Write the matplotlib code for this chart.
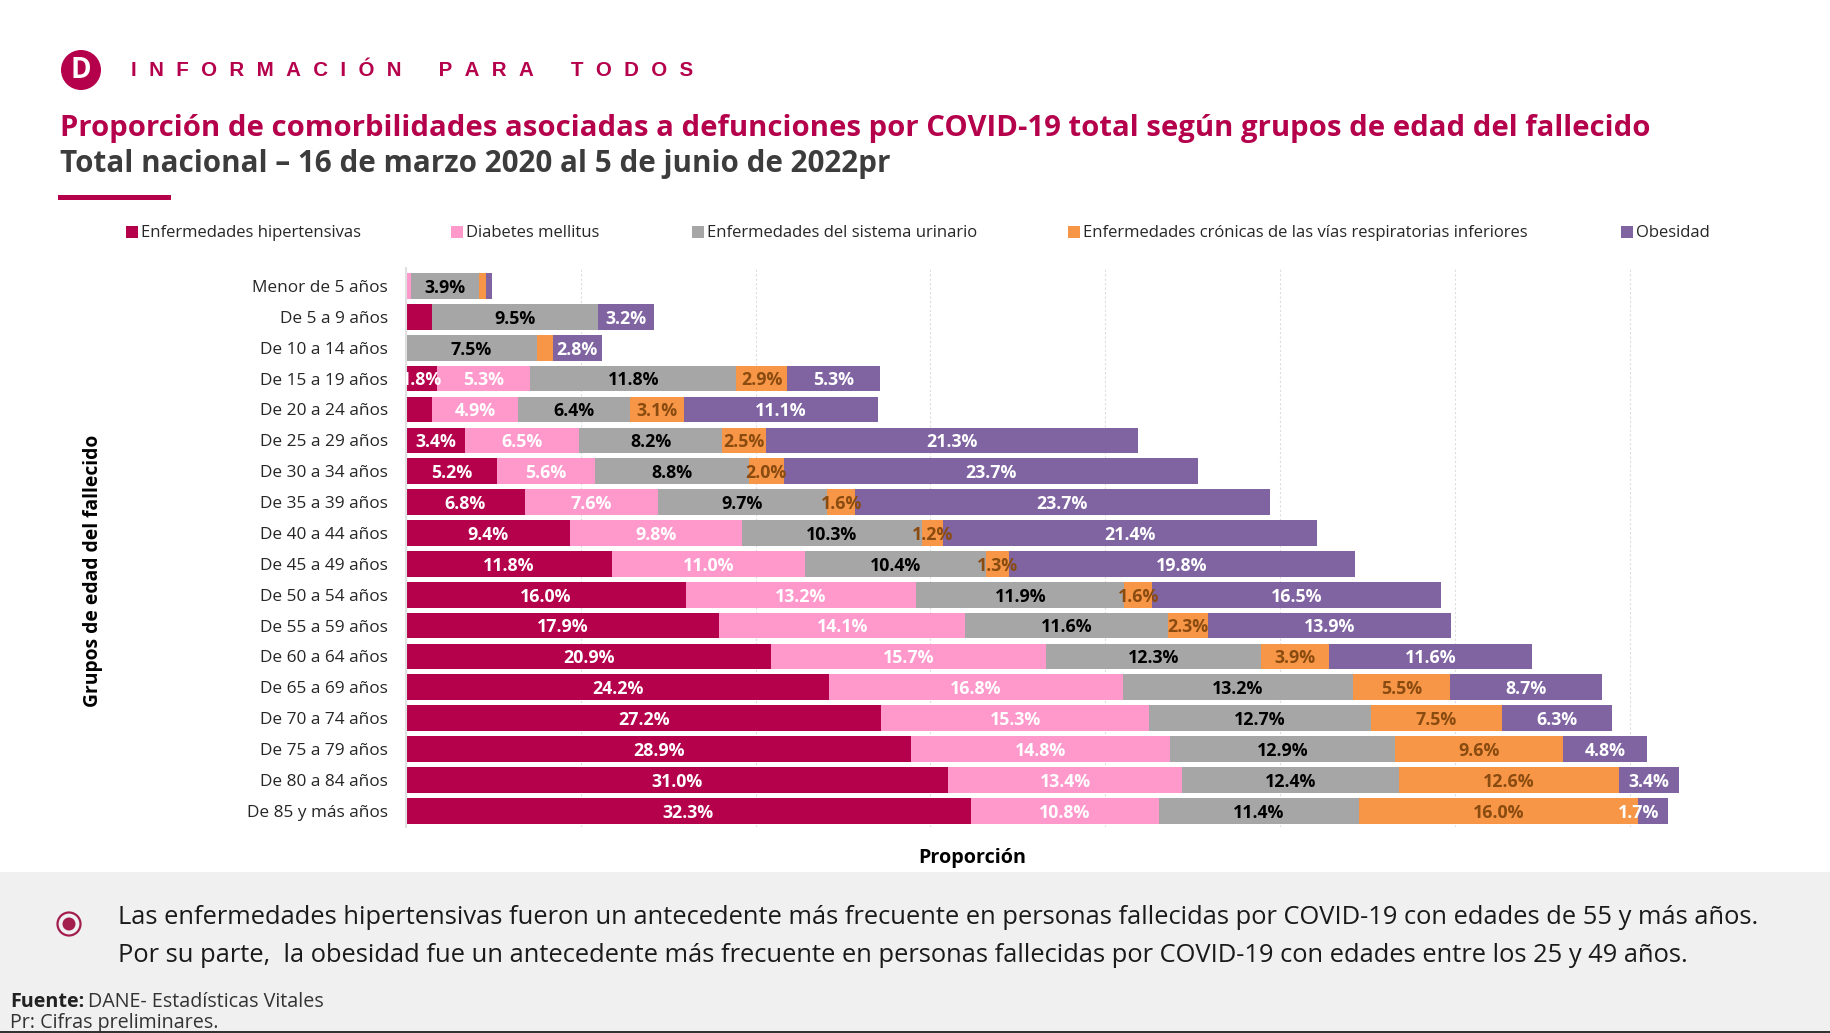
import matplotlib
matplotlib.use("Agg")
import matplotlib.pyplot as plt
from matplotlib.patches import Rectangle, Circle

W, H = 1831, 1033
plt.rcParams['font.family'] = ['Open Sans', 'DejaVu Sans']

grupos = ["Menor de 5 años", "De 5 a 9 años", "De 10 a 14 años", "De 15 a 19 años", "De 20 a 24 años",
          "De 25 a 29 años", "De 30 a 34 años", "De 35 a 39 años", "De 40 a 44 años", "De 45 a 49 años",
          "De 50 a 54 años", "De 55 a 59 años", "De 60 a 64 años", "De 65 a 69 años", "De 70 a 74 años",
          "De 75 a 79 años", "De 80 a 84 años", "De 85 y más años"]
hipertensivas = [0.0, 1.5, 0.0, 1.8, 1.5, 3.4, 5.2, 6.8, 9.4, 11.8, 16.0, 17.9, 20.9, 24.2, 27.2, 28.9, 31.0, 32.3]
diabetes = [0.3, 0.0, 0.0, 5.3, 4.9, 6.5, 5.6, 7.6, 9.8, 11.0, 13.2, 14.1, 15.7, 16.8, 15.3, 14.8, 13.4, 10.8]
urinario = [3.9, 9.5, 7.5, 11.8, 6.4, 8.2, 8.8, 9.7, 10.3, 10.4, 11.9, 11.6, 12.3, 13.2, 12.7, 12.9, 12.4, 11.4]
respiratorias = [0.4, 0.0, 0.9, 2.9, 3.1, 2.5, 2.0, 1.6, 1.2, 1.3, 1.6, 2.3, 3.9, 5.5, 7.5, 9.6, 12.6, 16.0]
obesidad = [0.3, 3.2, 2.8, 5.3, 11.1, 21.3, 23.7, 23.7, 21.4, 19.8, 16.5, 13.9, 11.6, 8.7, 6.3, 4.8, 3.4, 1.7]
series = [hipertensivas, diabetes, urinario, respiratorias, obesidad]
nombres = ["Enfermedades hipertensivas", "Diabetes mellitus", "Enfermedades del sistema urinario",
           "Enfermedades crónicas de las vías respiratorias inferiores", "Obesidad"]
colores = ["#B5004B", "#FF99CC", "#A6A6A6", "#F79646", "#8064A2"]
color_texto = ["white", "white", "black", "#8A4B10", "white"]
umbral = [1.7, 1.7, 1.7, 1.2, 1.7]

fig = plt.figure(figsize=(W / 100, H / 100), dpi=100, facecolor="white")

def fx(x): return x / W
def fy(y): return 1 - y / H
def txt(x, y, s, **kw):
    kw.setdefault("va", "center")
    return fig.text(fx(x), fy(y), s, **kw)
def rect(x, y, w, h, c, **kw):
    fig.add_artist(Rectangle((fx(x), fy(y + h)), w / W, h / H, transform=fig.transFigure, fc=c, ec="none", **kw))

# fondo inferior
rect(0, 872, W, 161, "#F0F0F0")

# logo y viñeta
logo = fig.add_axes([0, 0, 1, 1], facecolor="none", zorder=3)
logo.set_xlim(0, W); logo.set_ylim(H, 0); logo.axis("off")
logo.add_patch(Circle((81, 70), 20, fc="#B5004B", ec="none"))
logo.text(81, 70.5, "D", color="white", fontsize=20, fontweight="bold", ha="center", va="center")
logo.add_patch(Circle((69, 924), 11.5, fc="none", ec="#A31D4D", lw=1.6))
logo.add_patch(Circle((69, 924), 6.5, fc="#A31D4D", ec="none"))

RED = "#B5004B"
txt(131, 70, "I N F O R M A C I Ó N   P A R A   T O D O S".replace(" ", "\u2009\u2009\u2009"), color=RED, fontsize=14.8,
    fontweight="bold", family=["Liberation Sans"])
txt(60, 128, "Proporción de comorbilidades asociadas a defunciones por COVID-19 total según grupos de edad del fallecido",
    color=RED, fontsize=21.03, fontweight="bold")
txt(60, 164, "Total nacional – 16 de marzo 2020 al 5 de junio de 2022pr", color="#3C3C3C", fontsize=21.3, fontweight="bold")
rect(58, 195, 113, 5, RED)

# leyenda
leg_x = [126, 451, 692, 1068, 1621]
for x, n, c in zip(leg_x, nombres, colores):
    rect(x, 226, 12, 12, c)
    txt(x + 15, 233, n, fontsize=12.0, color="#262626")

# gráfico
px_por_unidad = 17.48
x0 = 406
xmax = 75
top, bottom = 268, 827
y_primera, paso = 286, 30.87
ax = fig.add_axes([fx(x0), fy(bottom), xmax * px_por_unidad / W, (bottom - top) / H], facecolor="none", zorder=2)
ax.set_xlim(0, xmax)
ax.set_ylim((bottom - y_primera) / paso, (top - y_primera) / paso)
ax.set_xticks(range(10, 80, 10))
ax.xaxis.grid(True, ls=(0, (2, 2)), color="#DDDDDD", lw=0.8)
ax.set_axisbelow(True)
ax.set_xticklabels([])
ax.tick_params(length=0)
for s in ["top", "right", "bottom"]:
    ax.spines[s].set_visible(False)
ax.spines["left"].set_color("#E0E0E0")
ax.spines["left"].set_linewidth(1.5)
pos = list(range(len(grupos)))
ax.set_yticks(pos)
ax.set_yticklabels(grupos, fontsize=12.4, color="#262626")
ax.tick_params(axis="y", pad=13)

left = [0.0] * len(grupos)
for k, (vals, c, tc, um) in enumerate(zip(series, colores, color_texto, umbral)):
    ax.barh(pos, vals, left=left, height=0.83, color=c, linewidth=0)
    for i, (v, l) in enumerate(zip(vals, left)):
        if v >= um:
            # la etiqueta angosta de obesidad queda sobre el borde de su barra
            xt = l if (k == 4 and v < 2) else l + v / 2
            ax.text(xt, i + 0.06, f"{v:.1f}%", color=tc, ha="center", va="center",
                    fontsize=12.8, fontweight="bold", clip_on=True)
    left = [a + b for a, b in zip(left, vals)]

txt(93, 571, "Grupos de edad del fallecido", rotation=90, ha="center", fontsize=13.9, fontweight="bold", color="black")
txt(972, 858, "Proporción", ha="center", fontsize=14.2, fontweight="bold", color="black")

# notas
txt(118, 918, "Las enfermedades hipertensivas fueron un antecedente más frecuente en personas fallecidas por COVID-19 con edades de 55 y más años.",
    fontsize=18.4, color="#1a1a1a")
txt(118, 955, "Por su parte,  la obesidad fue un antecedente más frecuente en personas fallecidas por COVID-19 con edades entre los 25 y 49 años.",
    fontsize=18.4, color="#1a1a1a")
txt(10, 1002, "Fuente:", fontsize=14.2, fontweight="bold", color="#222222")
txt(88, 1002, "DANE- Estadísticas Vitales", fontsize=14.2, color="#333333")
txt(10, 1023, "Pr: Cifras preliminares.", fontsize=14.2, color="#333333")
fig.add_artist(Rectangle((0, 0), 1, 2 / H, transform=fig.transFigure, fc="#333333", ec="none", zorder=5))

fig.savefig("out.png", dpi=100)
